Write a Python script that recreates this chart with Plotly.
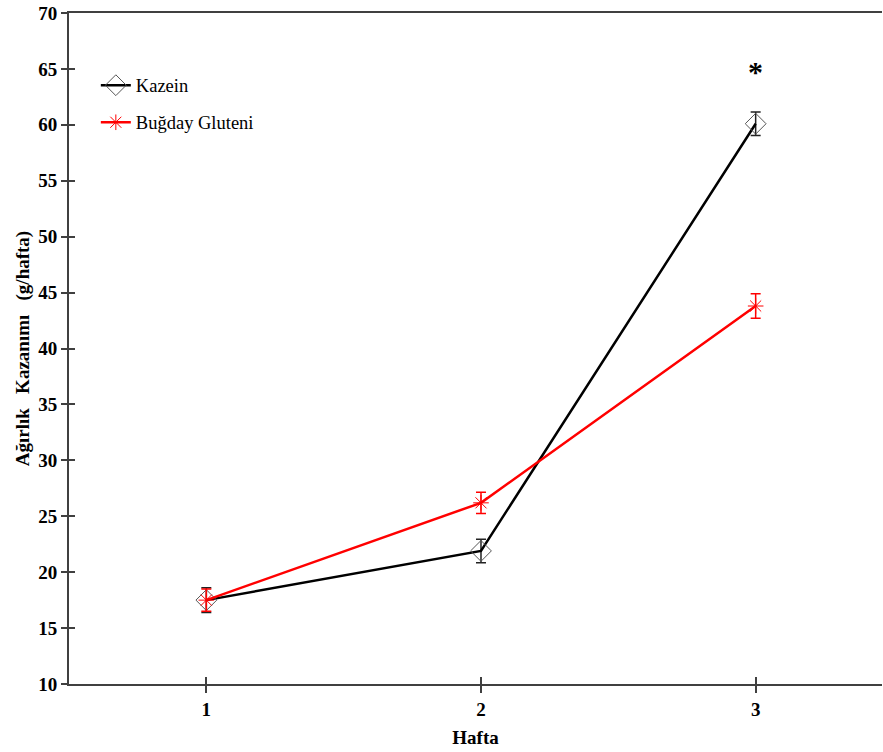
import plotly.graph_objects as go

weeks = [1, 2, 3]
kazein = [17.5, 21.9, 60.1]
kazein_err = [1.1, 1.05, 1.05]
gluten = [17.5, 26.2, 43.8]
gluten_err = [1.0, 0.95, 1.1]
y_ticks = list(range(10, 71, 5))

FONT = "Liberation Serif"

fig = go.Figure()
fig.add_trace(go.Scatter(
    x=weeks, y=kazein, name="Kazein", mode="lines+markers",
    line=dict(color="black", width=2.5),
    marker=dict(symbol="diamond-open", size=16, color="#555555", line=dict(width=1, color="#555555")),
    error_y=dict(type="data", array=kazein_err, color="#222222", thickness=1.5, width=5),
    legendgroup="a",
))
fig.add_trace(go.Scatter(
    x=weeks, y=gluten, name="Buğday Gluteni", mode="lines+markers",
    line=dict(color="#ff0000", width=2.5),
    marker=dict(symbol="asterisk-open", size=13, color="#ff0000", line=dict(width=1, color="#ff0000")),
    error_y=dict(type="data", array=gluten_err, color="#ff0000", thickness=1.5, width=5),
    legendgroup="b",
))
# invisible trace to anchor overlay axes for crossing ticks
fig.add_trace(go.Scatter(x=[weeks[0]], y=[y_ticks[0]], xaxis="x2", yaxis="y2",
                         mode="markers", marker=dict(opacity=0), showlegend=False, hoverinfo="skip"))

fig.add_annotation(x=3, y=64.8, text="<b>*</b>", showarrow=False,
                   font=dict(family=FONT, size=30, color="black"))

axis_font = dict(family=FONT, size=19, color="black")
fig.update_layout(
    width=883, height=752,
    margin=dict(l=69, r=1, t=13, b=68),
    paper_bgcolor="white", plot_bgcolor="white",
    font=dict(family=FONT, size=18, color="black"),
    showlegend=True,
    legend=dict(x=0.033, y=0.92, xanchor="left", yanchor="top",
                bgcolor="rgba(0,0,0,0)", font=dict(family=FONT, size=18.5, color="black"),
                traceorder="grouped", tracegroupgap=10, itemwidth=30),
    xaxis=dict(range=[0.5, 3.46], tickvals=weeks, ticktext=[f"<b>{w}</b>" for w in weeks],
               showgrid=False, zeroline=False, showline=True, linecolor="#404040", linewidth=2,
               mirror=True, ticks="outside", ticklen=7, tickwidth=1.5, tickcolor="#404040",
               tickfont=axis_font,
               title=dict(text="<b>Hafta</b>", font=dict(family=FONT, size=19), standoff=12)),
    yaxis=dict(range=[10, 70], tickvals=y_ticks, ticktext=[f"<b>{v}</b>" for v in y_ticks],
               showgrid=False, zeroline=False, showline=True, linecolor="#404040", linewidth=2,
               ticks="outside", ticklen=6, tickwidth=1.5, tickcolor="#404040",
               tickfont=axis_font,
               title=dict(text="<b>Ağırlık   Kazanımı   (g/hafta)</b>", font=dict(family=FONT, size=19), standoff=4)),
    xaxis2=dict(range=[0.5, 3.46], overlaying="x", anchor="y2", tickvals=weeks, showticklabels=False,
                showgrid=False, zeroline=False, showline=False, ticks="inside", ticklen=7,
                tickwidth=1.5, tickcolor="#404040"),
    yaxis2=dict(range=[10, 70], overlaying="y", anchor="x2", tickvals=y_ticks, showticklabels=False,
                showgrid=False, zeroline=False, showline=False, ticks="inside", ticklen=6,
                tickwidth=1.5, tickcolor="#404040"),
)

fig.write_html("out.html")
